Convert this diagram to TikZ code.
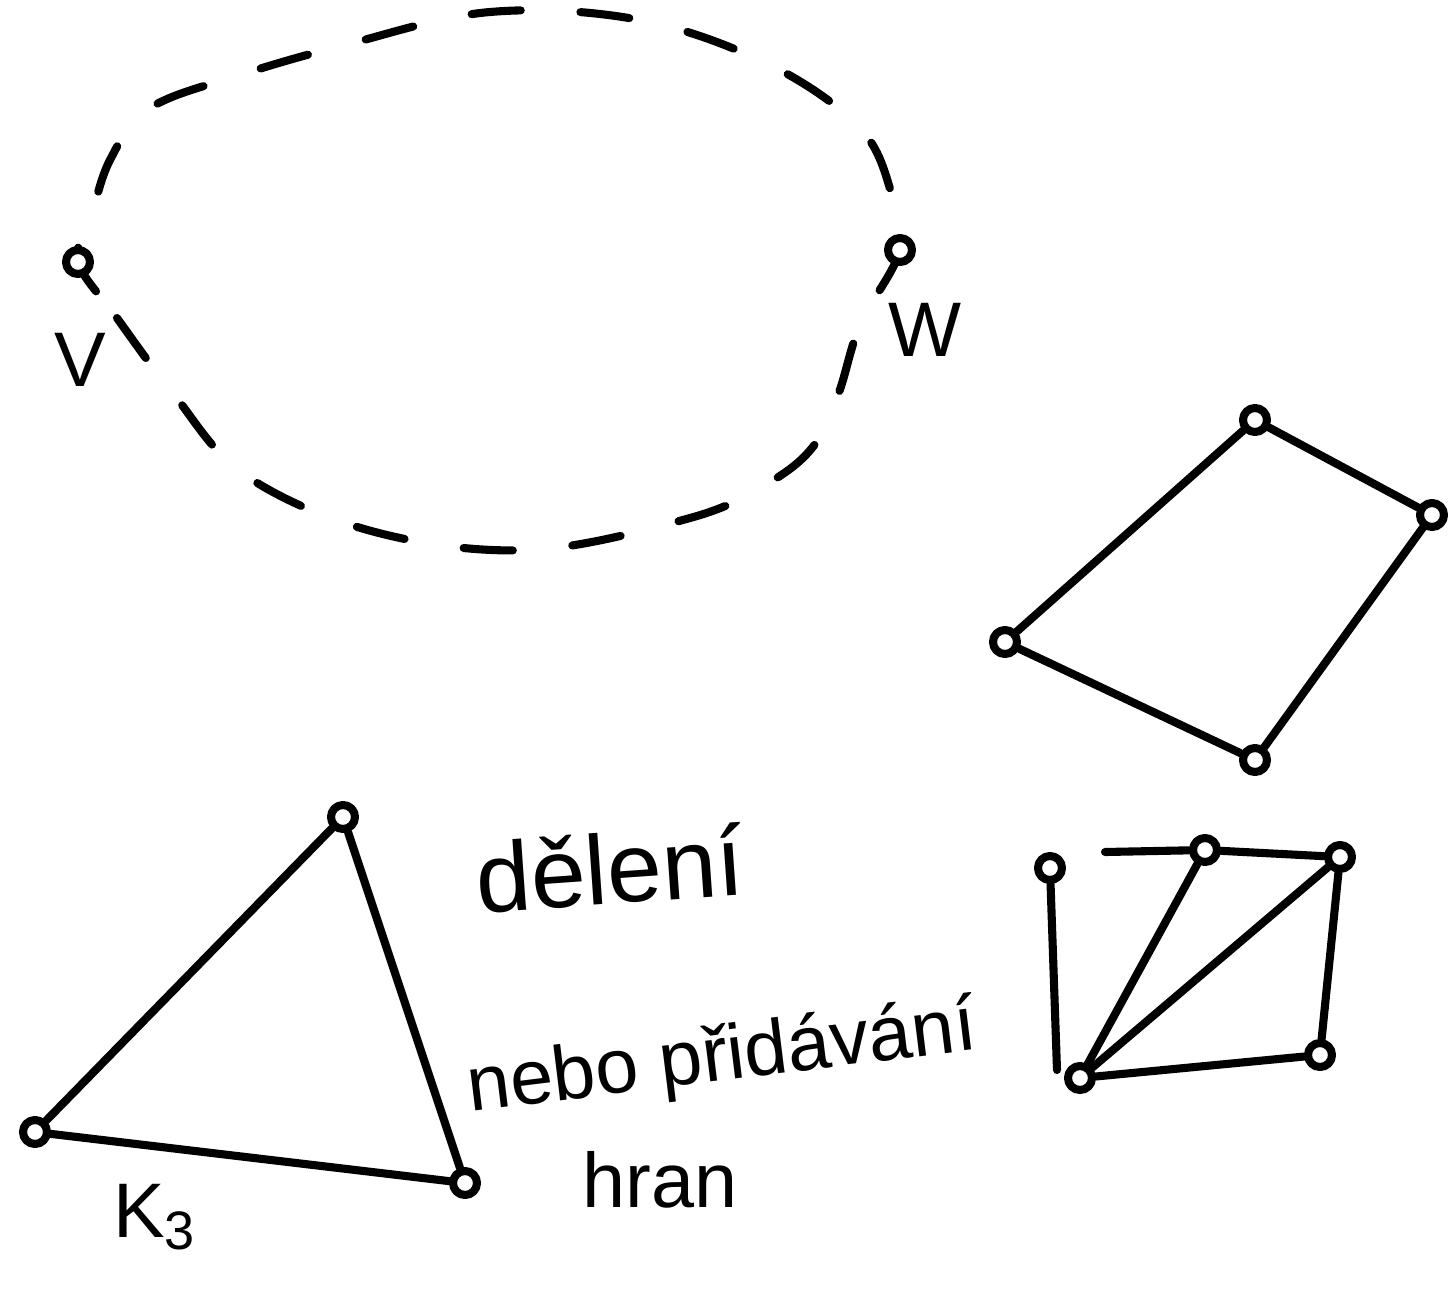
\documentclass[tikz,border=0pt]{standalone}
\usepackage{fontspec}
\setmainfont{Liberation Sans}
\begin{document}
\begin{tikzpicture}[x=0.01cm,y=-0.01cm,
  ink/.style={line width=2.3pt,line cap=round,line join=round},
  vtx/.style={circle,draw,ink,fill=white,minimum size=0.24cm,inner sep=0pt},
  lbl/.style={inner sep=0pt,font=\fontsize{22}{24}\selectfont},
  txt/.style={inner sep=0pt,font=\fontsize{28}{30}\selectfont}]
\useasboundingbox (0,0) rectangle (1448,1290);
% dashed loop through V and W
\draw[ink,dash pattern=on 14pt off 17pt] plot[smooth cycle,tension=0.6] coordinates {
 (78,262) (117,318) (172,392) (245,475) (375,532) (530,550) (690,518)
 (765,485) (812,448) (838,395) (860,325) (900,250) (892,195) (860,128) (770,65) (640,20)
 (490,12) (345,45) (240,75) (150,108) (110,160) (90,222)};
\node[vtx] (v) at (78,262) {};
\node[vtx] (w) at (900,250) {};
\node[lbl] (vl) at (80,360) {V};
\node[lbl] (wl) at (925,330) {W};
% quadrilateral
\node[vtx] (q1) at (1255,420) {};
\node[vtx] (q2) at (1432,515) {};
\node[vtx] (q3) at (1255,760) {};
\node[vtx] (q4) at (1005,642) {};
\draw[ink] (q1) -- (q2) -- (q3) -- (q4) -- (q1);
% K3
\node[vtx] (k1) at (343,817) {};
\node[vtx] (k2) at (35,1132) {};
\node[vtx] (k3) at (465,1183) {};
\draw[ink] (k1) -- (k2) -- (k3) -- (k1);
\node[lbl,anchor=base] (kl) at (155,1237) {K$_{\mathrm{3}}$};
% text
\node[txt,rotate=4] (t1) at (610,868) {dělení};
\node[txt,rotate=7,font=\fontsize{22}{24}\selectfont] (t2) at (722,1060) {nebo přidávání};
\node[txt,font=\fontsize{22}{24}\selectfont] (t3) at (660,1180) {hran};
% right graph
\node[vtx] (r1) at (1050,868) {};
\node[vtx] (r2) at (1205,850) {};
\node[vtx] (r3) at (1340,857) {};
\node[vtx] (r4) at (1080,1078) {};
\node[vtx] (r5) at (1320,1055) {};
\coordinate (rs) at (1105,852);
\coordinate (re) at (1057,1070);
\draw[ink] (rs) -- (r2) -- (r3);
\draw[ink] (r2) -- (r4);
\draw[ink] (r3) -- (r4);
\draw[ink] (r3) -- (r5);
\draw[ink] (r4) -- (r5);
\draw[ink] (r1) -- (re);
\end{tikzpicture}
\end{document}
